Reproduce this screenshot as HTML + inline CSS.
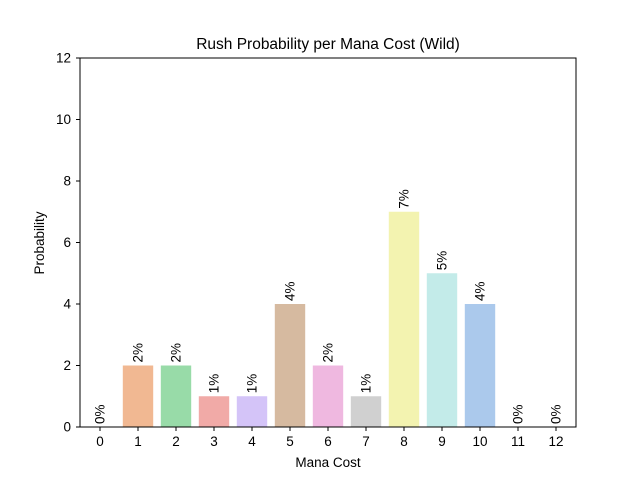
<!DOCTYPE html>
<html><head><meta charset="utf-8"><style>
body{margin:0;background:#fff}
text{font-family:"Liberation Sans","DejaVu Sans",sans-serif;fill:#000}
</style></head><body>
<svg id="chart" width="640" height="480" xmlns="http://www.w3.org/2000/svg">
<text x="328" y="49" font-size="15.5" text-anchor="middle">Rush Probability per Mana Cost (Wild)</text>
<g id="bars"></g>
<g id="ticks"></g>
<rect x="80" y="58" width="496" height="369" fill="none" stroke="#000" stroke-width="1"/>
<text x="328" y="467" font-size="13.5" text-anchor="middle">Mana Cost</text>
<text x="44" y="243" font-size="13.5" text-anchor="middle" transform="rotate(-90 44 243)">Probability</text>
</svg>
<script>
const categories=[0,1,2,3,4,5,6,7,8,9,10,11,12];
const values=[0,2,2,1,1,4,2,1,7,5,4,0,0];
const valueLabels=["0%","2%","2%","1%","1%","4%","2%","1%","7%","5%","4%","0%","0%"];
const yTicks=[0,2,4,6,8,10,12];
const colors=["#abc9ec","#f1b892","#98dba8","#f1aaa7","#d4c4f8","#d6baa0","#efb8e0","#d0d0d0","#f3f3b0","#c3ebe9","#abc9ec","#f1b892","#98dba8"];
const NS="http://www.w3.org/2000/svg";
const xs=v=>100+v*38;
const ys=v=>427-v*369/12;
const bars=document.getElementById('bars'),ticks=document.getElementById('ticks');
function mk(tag,attrs,p){const e=document.createElementNS(NS,tag);for(const k in attrs)e.setAttribute(k,attrs[k]);p.appendChild(e);return e;}
categories.forEach((c,i)=>{
  const x=xs(c),y=ys(values[i]);
  const r=mk('rect',{x:x-15.2,y:y,width:30.4,height:427-y,fill:colors[i]},bars);
  
  
  const t=mk('text',{x:0,y:0,'font-size':13.5,transform:`translate(${x+4.5},${y-3}) rotate(-90)`},bars);
  t.textContent=valueLabels[i];
  
  
  const tk=mk('line',{x1:x,x2:x,y1:427,y2:431,stroke:'#000'},ticks);
  
  
  const tl=mk('text',{x:x,y:446,'font-size':13.5,'text-anchor':'middle'},ticks);
  tl.textContent=c;
  
  
});
yTicks.forEach(v=>{
  const y=ys(v);
  const tk=mk('line',{x1:76,x2:80,y1:y,y2:y,stroke:'#000'},ticks);
  
  
  const tl=mk('text',{x:71,y:y+4.5,'font-size':13.5,'text-anchor':'end'},ticks);
  tl.textContent=v;
  
  
});
</script>
</body></html>
